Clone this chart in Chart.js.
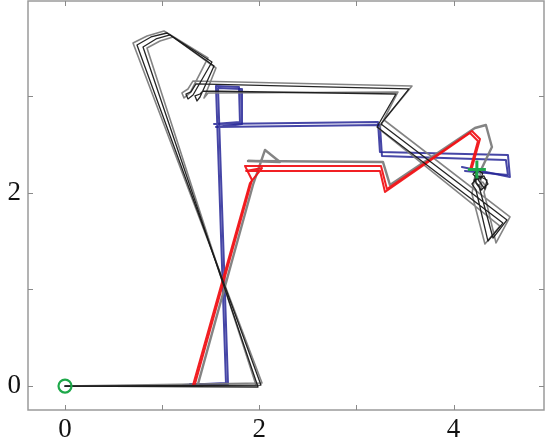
<!DOCTYPE html>
<html>
<head>
<meta charset="utf-8">
<script src="https://cdn.jsdelivr.net/npm/chart.js@4.4.1/dist/chart.umd.min.js"></script>
<style>
  html, body { margin: 0; padding: 0; background: #ffffff; }
  #wrap { width: 546px; height: 445px; }
</style>
</head>
<body>
<div id="wrap"><canvas id="c" width="546" height="445"></canvas></div>
<script>
// ---- tick labels ----
const xTickValues = [0, 1, 2, 3, 4];
const yTickValues = [0, 1, 2, 3];
const labelledTicks = [0, 2, 4];

// ---- black runs ----
const black1X = [0, 2.017, 0.741, 0.885, 1.050, 1.513, 1.318, 1.266, 1.245, 1.297, 1.348, 3.541, 3.253, 4.550, 4.406, 4.261, 4.210, 4.313, 4.354, 4.282, 4.231, 4.231];
const black1Y = [0, 0.010, 3.528, 3.611, 3.652, 3.352, 3.011, 2.970, 3.021, 3.042, 3.125, 3.073, 2.711, 1.718, 1.531, 2.069, 2.131, 2.173, 2.090, 2.028, 2.100, 2.214];
const black2X = [0, 1.987, 0.803, 0.937, 1.081, 1.534, 1.390, 1.359, 1.338, 1.390, 1.420, 3.407, 3.212, 4.508, 4.354, 4.231, 4.189, 4.261, 4.344, 4.323, 4.241, 4.200, 4.250, 4.300, 4.280, 4.220];
const black2Y = [0, -0.010, 3.507, 3.590, 3.632, 3.311, 2.990, 2.949, 3.001, 3.021, 3.052, 3.021, 2.680, 1.686, 1.500, 2.028, 2.090, 2.173, 2.131, 2.038, 2.152, 2.190, 2.235, 2.200, 2.140, 2.150];

// ---- gray runs ----
const gray1X = [0, 2.028, 0.700, 0.844, 1.019, 1.472, 1.287, 1.225, 1.204, 1.266, 1.318, 3.572, 3.284, 4.581, 4.437, 4.313, 4.335, 4.300, 4.260, 4.290, 4.272];
const gray1Y = [0, 0.031, 3.549, 3.621, 3.673, 3.394, 3.032, 2.980, 3.032, 3.073, 3.156, 3.104, 2.752, 1.749, 1.480, 2.007, 2.060, 2.110, 2.080, 2.030, 2.214];
const gray2X = [0, 1.966, 0.844, 0.978, 1.112, 1.554, 1.431, 1.472, 3.428, 3.233, 4.478, 4.323, 4.189, 4.220];
const gray2Y = [0, 0.010, 3.497, 3.570, 3.611, 3.290, 2.980, 3.032, 3.042, 2.659, 1.655, 1.469, 1.987, 2.173];
const gray3X = [1.369, 1.935, 2.059, 2.213, 1.884, 3.273, 3.345, 4.220, 4.333, 4.395, 4.272];
const gray3Y = [0.020, 2.080, 2.442, 2.318, 2.328, 2.318, 2.080, 2.669, 2.700, 2.473, 2.214];

// ---- red runs ----
const red1X = [1.338, 1.925, 1.853, 3.253, 3.314, 4.189, 4.272, 4.189];
const red1Y = [0.020, 2.131, 2.276, 2.276, 2.038, 2.638, 2.556, 2.256];
const red2X = [1.318, 1.904, 2.028, 1.863, 3.243, 3.294, 4.169, 4.251, 4.169];
const red2Y = [0.010, 2.100, 2.255, 2.225, 2.225, 2.007, 2.618, 2.535, 2.235];

// ---- blue runs ----
const blue1X = [1.215, 1.657, 1.554, 1.791, 1.801, 1.534, 3.222, 3.242, 4.560, 4.580, 4.086];
const blue1Y = [0.010, 0.031, 3.104, 3.094, 2.732, 2.711, 2.732, 2.421, 2.390, 2.162, 2.266];
const blue2X = [1.287, 1.678, 1.575, 1.812, 1.822, 1.554, 3.242, 3.263, 4.539, 4.560, 4.117];
const blue2Y = [0.020, 0.020, 3.083, 3.073, 2.711, 2.680, 2.700, 2.380, 2.338, 2.183, 2.225];

// ---- markers ----
const startX = [0];
const startY = [0];
const goalX = [4.24];
const goalY = [2.24];

function pts(xs, ys) { return xs.map((x, i) => ({ x: x, y: ys[i] })); }

function lineSet(xs, ys, color, width, order) {
  return {
    data: pts(xs, ys),
    showLine: true,
    borderColor: color,
    backgroundColor: color,
    borderWidth: width,
    pointRadius: 0,
    tension: 0,
    borderJoinStyle: 'round',
    borderCapStyle: 'round',
    order: order
  };
}

const GRAY = 'rgba(125,125,125,0.95)';
const BLACK = 'rgba(25,25,25,0.95)';
const RED = 'rgba(240,20,24,0.95)';
const BLUE = 'rgba(38,38,150,0.85)';
const GREEN = '#1ea84a';
const AXIS = '#9a9a9a';

const boxPlugin = {
  id: 'boxTicks',
  afterDraw(chart) {
    const ctx = chart.ctx;
    const a = chart.chartArea;
    const xs = chart.scales.x, ys = chart.scales.y;
    ctx.save();
    ctx.strokeStyle = AXIS;
    ctx.lineWidth = 1.5;
    ctx.strokeRect(a.left, a.top, a.right - a.left, a.bottom - a.top);
    ctx.lineWidth = 1;
    ctx.strokeStyle = '#8a8a8a';
    ctx.beginPath();
    xTickValues.forEach(v => {
      const px = Math.round(xs.getPixelForValue(v)) + 0.5;
      ctx.moveTo(px, a.bottom); ctx.lineTo(px, a.bottom - 5);
      ctx.moveTo(px, a.top); ctx.lineTo(px, a.top + 5);
    });
    yTickValues.forEach(v => {
      const py = Math.round(ys.getPixelForValue(v)) + 0.5;
      ctx.moveTo(a.left, py); ctx.lineTo(a.left + 5, py);
      ctx.moveTo(a.right, py); ctx.lineTo(a.right - 5, py);
    });
    ctx.stroke();
    ctx.restore();
  }
};

const tickFont = { family: "'Liberation Serif', 'DejaVu Serif', serif", size: 27 };

function zeroPad(scale) {
  scale.paddingTop = 0; scale.paddingBottom = 0;
  scale.paddingLeft = 0; scale.paddingRight = 0;
}

new Chart(document.getElementById('c'), {
  type: 'scatter',
  data: {
    datasets: [
      {
        data: pts(startX, startY),
        pointStyle: 'circle',
        pointRadius: 6.5,
        pointBorderWidth: 2.2,
        borderColor: GREEN,
        backgroundColor: 'rgba(0,0,0,0)',
        showLine: false,
        order: 0
      },
      {
        data: pts(goalX, goalY),
        pointStyle: 'cross',
        pointRadius: 9,
        pointBorderWidth: 3,
        borderColor: GREEN,
        backgroundColor: GREEN,
        showLine: false,
        order: 0
      },
      lineSet(black1X, black1Y, BLACK, 1.3, 1),
      lineSet(black2X, black2Y, BLACK, 1.3, 1),
      lineSet(red1X, red1Y, RED, 2, 2),
      lineSet(red2X, red2Y, RED, 2, 2),
      lineSet(gray1X, gray1Y, GRAY, 1.6, 3),
      lineSet(gray2X, gray2Y, GRAY, 1.6, 3),
      lineSet(gray3X, gray3Y, GRAY, 2.4, 3),
      lineSet(blue1X, blue1Y, BLUE, 2, 4),
      lineSet(blue2X, blue2Y, BLUE, 2, 4)
    ]
  },
  options: {
    responsive: false,
    animation: false,
    devicePixelRatio: 1,
    layout: { autoPadding: false, padding: { top: 1, right: 2, left: 0, bottom: 0 } },
    plugins: { legend: { display: false }, tooltip: { enabled: false } },
    scales: {
      x: {
        type: 'linear',
        min: -0.381,
        max: 4.931,
        grid: { display: false, drawTicks: false, tickLength: 0 },
        border: { display: false },
        afterFit(scale) { scale.height = 35; zeroPad(scale); },
        ticks: {
          stepSize: 1,
          includeBounds: false,
          autoSkip: false,
          maxRotation: 0,
          padding: 4,
          color: '#111',
          font: tickFont,
          callback: v => (labelledTicks.includes(v) ? String(v) : '')
        }
      },
      y: {
        type: 'linear',
        min: -0.248,
        max: 3.983,
        grid: { display: false, drawTicks: false, tickLength: 0 },
        border: { display: false },
        afterFit(scale) { scale.width = 28; zeroPad(scale); },
        ticks: {
          stepSize: 1,
          includeBounds: false,
          autoSkip: false,
          padding: 7,
          color: '#111',
          font: tickFont,
          callback: v => (labelledTicks.includes(v) ? String(v) : '')
        }
      }
    }
  },
  plugins: [boxPlugin]
});
</script>
</body>
</html>
